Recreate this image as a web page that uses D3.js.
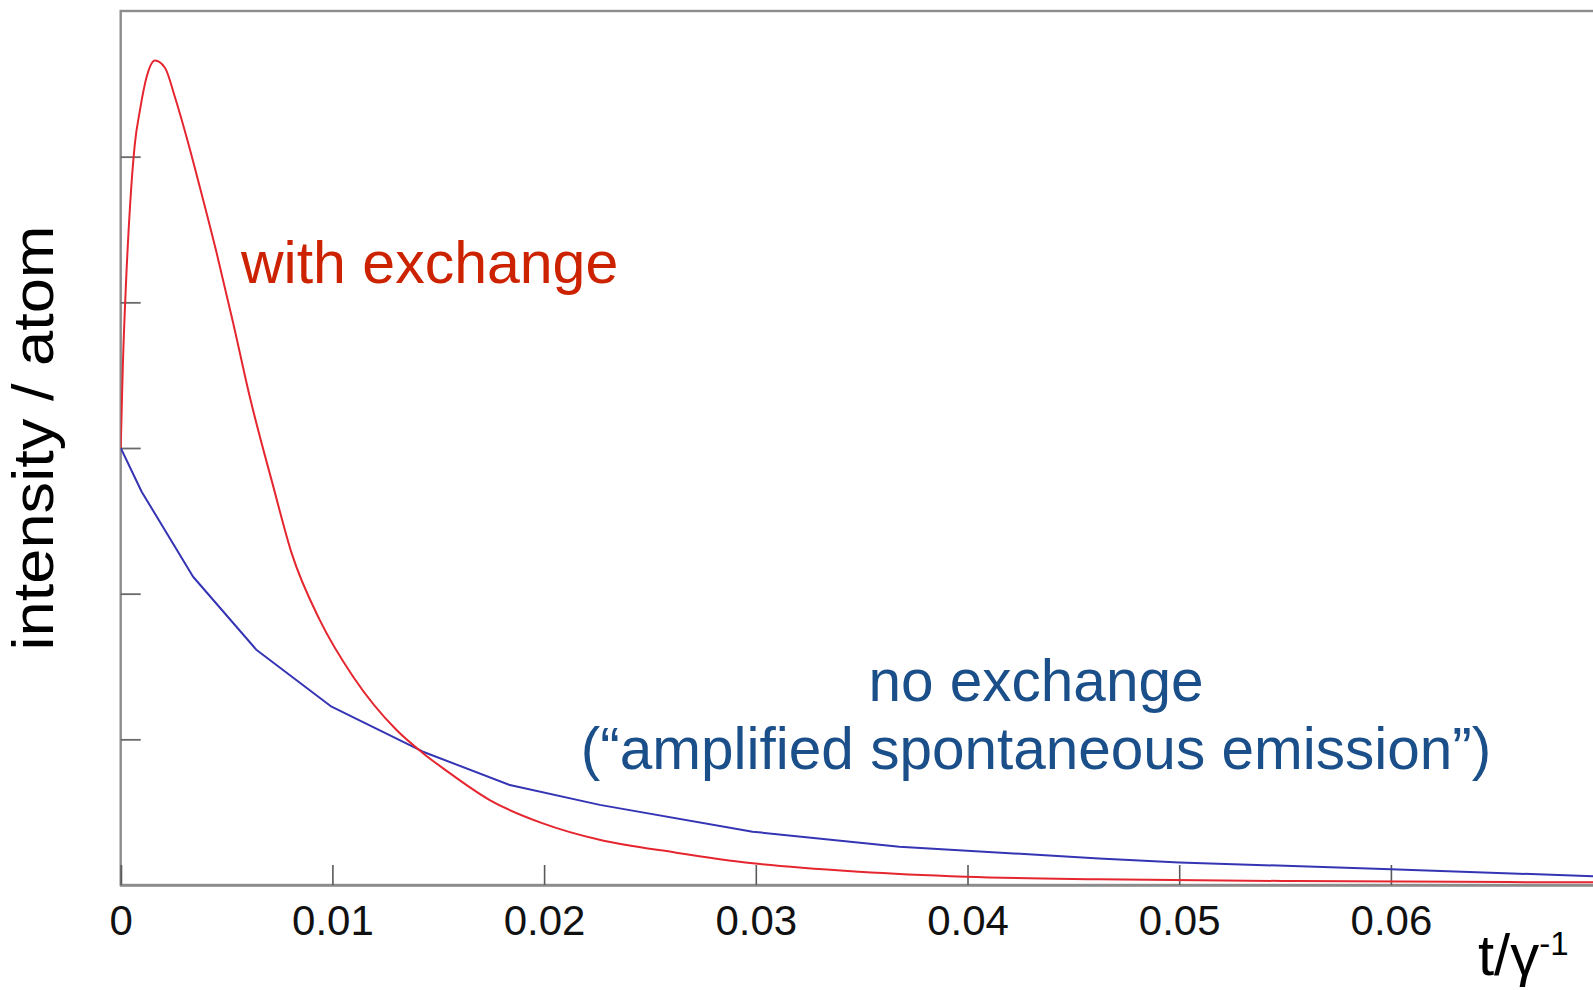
<!DOCTYPE html>
<html>
<head>
<meta charset="utf-8">
<script src="https://cdn.jsdelivr.net/npm/d3@7"></script>
<style>
  html, body { margin: 0; padding: 0; background: #fff; overflow: hidden; }
  svg { display: block; }
  text { font-family: "Liberation Sans", Arial, Helvetica, sans-serif; }
</style>
</head>
<body>
<svg id="chart" width="1593" height="990"></svg>
<script>
// Emitted intensity per atom versus time t (in units of 1/gamma)
const withExchangeT = [0, 0.0001, 0.00025, 0.00044, 0.00067, 0.00091, 0.00123, 0.00162, 0.00209, 0.00256,
  0.00312, 0.00374, 0.00453, 0.00531, 0.0061, 0.0072, 0.00807, 0.0094, 0.01098, 0.01303,
  0.01428, 0.01538, 0.01743, 0.01994, 0.02262, 0.02624, 0.02985, 0.03489, 0.03992, 0.04621,
  0.0555, 0.07];
const withExchangeV = [3.0, 3.56, 4.13, 4.66, 5.09, 5.32, 5.55, 5.66, 5.61, 5.41,
  5.13, 4.79, 4.34, 3.86, 3.35, 2.74, 2.28, 1.82, 1.43, 1.064,
  0.905, 0.785, 0.583, 0.423, 0.31, 0.222, 0.149, 0.091, 0.057, 0.039,
  0.027, 0.018];

const noExchangeT = [0, 0.00099, 0.00342, 0.00642, 0.00996, 0.01428, 0.01838, 0.02263, 0.02985, 0.03678,
  0.04621, 0.05, 0.06, 0.07];
const noExchangeV = [3.0, 2.70, 2.116, 1.613, 1.224, 0.915, 0.686, 0.55, 0.366, 0.263,
  0.182, 0.155, 0.108, 0.058];

const xTicks = [0, 0.01, 0.02, 0.03, 0.04, 0.05, 0.06];
const xTickLabels = ["0", "0.01", "0.02", "0.03", "0.04", "0.05", "0.06"];
const yTicks = [1, 2, 3, 4, 5];

const svg = d3.select("#chart");

const x = d3.scaleLinear().domain([0, 0.07]).range([120.7, 120.7 + 7 * 211.7]);
const y = d3.scaleLinear().domain([0, 6]).range([885, 11]);

const plotW = x(0.07) - x(0);
const plotH = y(0) - y(6);

svg.append("defs").append("clipPath").attr("id", "plot-clip")
  .append("rect")
  .attr("x", x(0)).attr("y", y(6))
  .attr("width", plotW).attr("height", plotH);

// frame
svg.append("rect")
  .attr("x", x(0)).attr("y", y(6))
  .attr("width", plotW).attr("height", plotH)
  .attr("fill", "none")
  .attr("stroke", "#8c8c8c")
  .attr("stroke-width", 2.4);

// x axis with inward ticks
const xAxis = d3.axisBottom(x)
  .tickValues(xTicks)
  .tickSize(-20)
  .tickPadding(20)
  .tickFormat((d, i) => xTickLabels[i]);

const gx = svg.append("g")
  .attr("transform", `translate(0,${y(0)})`)
  .call(xAxis);
gx.select(".domain").attr("stroke", "#8c8c8c").attr("stroke-width", 2.4);
gx.selectAll(".tick line").attr("stroke", "#5a5a5a").attr("stroke-width", 1.6);
gx.selectAll(".tick text")
  .attr("fill", "#111")
  .style("font-size", "42px")
  .style("font-family", "'Liberation Sans', Arial, Helvetica, sans-serif");

// y axis: inward ticks, no labels
const yAxis = d3.axisLeft(y)
  .tickValues(yTicks)
  .tickSize(-20)
  .tickFormat("");
const gy = svg.append("g")
  .attr("transform", `translate(${x(0)},0)`)
  .call(yAxis);
gy.select(".domain").remove();
gy.selectAll(".tick line").attr("stroke", "#6a6a6a").attr("stroke-width", 1.8);

// curves
const blueLine = d3.line()
  .x(d => x(d[0]))
  .y(d => y(d[1]))
  .curve(d3.curveLinear);

const redLine = d3.line()
  .x(d => x(d[0]))
  .y(d => y(d[1]))
  .curve(d3.curveMonotoneX);

const plot = svg.append("g").attr("clip-path", "url(#plot-clip)");

plot.append("path")
  .datum(noExchangeT.map((t, i) => [t, noExchangeV[i]]))
  .attr("fill", "none")
  .attr("stroke", "#3434b4")
  .attr("stroke-width", 2)
  .attr("stroke-linejoin", "round")
  .attr("d", blueLine);

plot.append("path")
  .datum(withExchangeT.map((t, i) => [t, withExchangeV[i]]))
  .attr("fill", "none")
  .attr("stroke", "#e5262f")
  .attr("stroke-width", 2)
  .attr("stroke-linejoin", "round")
  .attr("d", redLine);

// annotations
svg.append("text")
  .attr("x", 241).attr("y", 283)
  .attr("fill", "#cc2200")
  .style("font-size", "59px")
  .text("with exchange");

const blueLabel = svg.append("text")
  .attr("x", 1036)
  .attr("text-anchor", "middle")
  .attr("fill", "#1a4f8a")
  .style("font-size", "58.5px");
blueLabel.append("tspan").attr("x", 1036).attr("y", 701).text("no exchange");
blueLabel.append("tspan").attr("x", 1036).attr("y", 769)
  .text("(\u201Camplified spontaneous emission\u201D)");

// axis titles
svg.append("text")
  .attr("transform", "translate(53,438) rotate(-90)")
  .attr("text-anchor", "middle")
  .attr("fill", "#000")
  .attr("textLength", 425)
  .attr("lengthAdjust", "spacingAndGlyphs")
  .style("font-size", "58px")
  .text("intensity / atom");

const xt = svg.append("text")
  .attr("x", 1478).attr("y", 975)
  .attr("fill", "#000")
  .style("font-size", "58px");
xt.append("tspan").text("t/\u03B3");
xt.append("tspan")
  .attr("dy", -20)
  .style("font-size", "33px")
  .text("-1");
</script>
</body>
</html>
